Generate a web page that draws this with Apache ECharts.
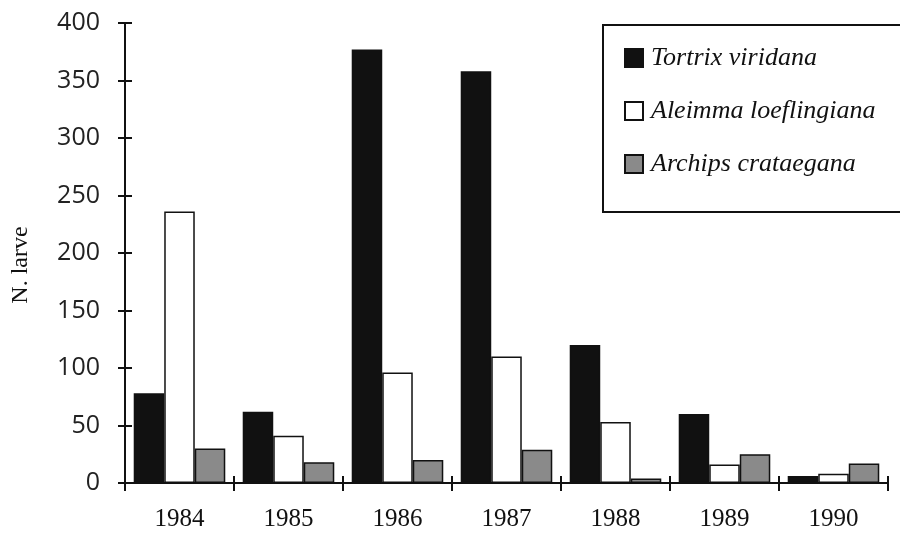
<!DOCTYPE html>
<html>
<head>
<meta charset="utf-8">
<script src="https://cdn.jsdelivr.net/npm/echarts@6/dist/echarts.min.js"></script>
<style>
  html, body { margin: 0; padding: 0; background: #fff; }
  #chart { width: 900px; height: 533px; }
</style>
</head>
<body>
<div id="chart"></div>
<script>
// years on the x axis
const years = ['1984', '1985', '1986', '1987', '1988', '1989', '1990'];
// larvae counts per species
const tortrix = [78, 62, 377, 358, 120, 60, 6];
const aleimma = [236, 41, 96, 110, 53, 16, 8];
const archips = [30, 18, 20, 29, 4, 25, 17];
const seriesNames = ['Tortrix viridana', 'Aleimma loeflingiana', 'Archips crataegana'];

const chart = echarts.init(document.getElementById('chart'));

const serif = 'Liberation Serif';
const sans = 'Open Sans';

const yBase = {
  type: 'value',
  min: 0,
  max: 400,
  interval: 50,
  splitLine: { show: false },
};

const xBase = {
  type: 'category',
  data: years,
  boundaryGap: true,
  splitLine: { show: false },
};

function barSeries(name, data, color) {
  return {
    name: name,
    type: 'bar',
    data: data,
    barGap: '0%',
    barCategoryGap: '16%',
    itemStyle: { color: color, borderColor: '#111', borderWidth: 1.5 },
    emphasis: { disabled: true },
  };
}

const option = {
  animation: false,
  backgroundColor: '#fff',
  grid: { left: 125, right: 12, top: 23, bottom: 50, containLabel: false, outerBoundsMode: 'none' },
  xAxis: [
    {
      ...xBase,
      axisLine: { show: true, lineStyle: { color: '#111', width: 2 } },
      axisTick: { show: true, length: 8, lineStyle: { color: '#111', width: 2 } },
      axisLabel: { color: '#111', fontFamily: serif, fontSize: 25, margin: 24 },
    },
    {
      ...xBase,
      position: 'bottom',
      axisLine: { show: false },
      axisTick: { show: true, inside: true, length: 7, lineStyle: { color: '#111', width: 2 } },
      axisLabel: { show: false },
    },
  ],
  yAxis: [
    {
      ...yBase,
      name: 'N. larve',
      nameLocation: 'middle',
      nameGap: 92,
      nameTextStyle: { color: '#111', fontFamily: serif, fontSize: 24, padding: [0, 24, 0, 0] },
      axisLine: { show: true, lineStyle: { color: '#111', width: 2 } },
      axisTick: { show: true, length: 7, lineStyle: { color: '#111', width: 2 } },
      axisLabel: { color: '#222', fontFamily: sans, fontSize: 25, margin: 25 },
    },
    {
      ...yBase,
      position: 'left',
      axisLine: { show: false },
      axisTick: { show: true, inside: true, length: 7, lineStyle: { color: '#111', width: 2 } },
      axisLabel: { show: false },
    },
  ],
  legend: {
    orient: 'vertical',
    left: 624,
    top: 43,
    padding: 0,
    itemGap: 23,
    itemWidth: 18,
    itemHeight: 18,
    icon: 'rect',
    data: seriesNames,
    textStyle: { color: '#111', fontFamily: serif, fontStyle: 'italic', fontSize: 26, lineHeight: 30, padding: [0, 0, 0, 3] },
  },
  graphic: [
    {
      type: 'rect',
      shape: { x: 603, y: 25, width: 320, height: 187 },
      style: { fill: 'transparent', stroke: '#111', lineWidth: 2 },
      z: 0,
    },
  ],
  series: [
    barSeries(seriesNames[0], tortrix, '#111'),
    barSeries(seriesNames[1], aleimma, '#fff'),
    barSeries(seriesNames[2], archips, '#8a8a8a'),
  ],
};

chart.setOption(option);
</script>
</body>
</html>
